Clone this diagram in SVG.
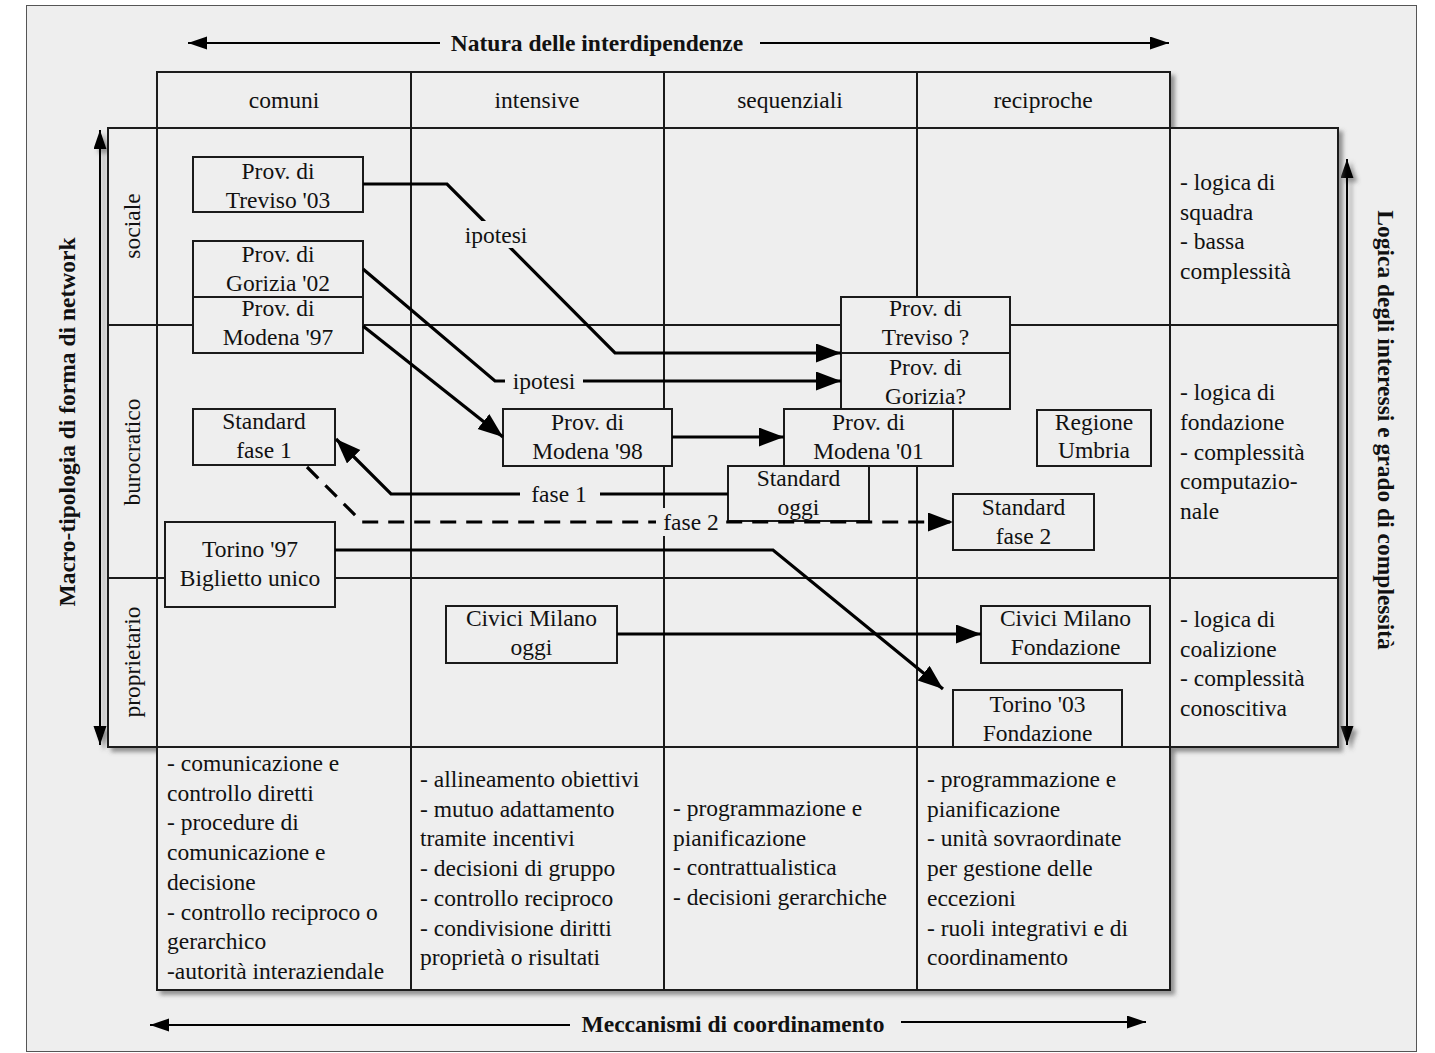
<svg xmlns="http://www.w3.org/2000/svg" width="1435" height="1053" viewBox="0 0 1435 1053">
<defs>
<style>
.t{font-family:"Liberation Serif","Times New Roman",serif;font-size:23.5px;fill:#111}
.c{text-anchor:middle}
.b{font-weight:bold}
.g{fill:none;stroke:#1a1a1a;stroke-width:2}
.box{fill:#eeeeee;stroke:#1a1a1a;stroke-width:2}
.cn{fill:none;stroke:#000;stroke-width:3.2}
.ax{fill:none;stroke:#000;stroke-width:2}
.lb{fill:#eeeeee}
</style>
<filter id="sh" x="-5%" y="-5%" width="110%" height="110%">
<feDropShadow dx="4" dy="4" stdDeviation="2" flood-color="#555" flood-opacity="0.6"/>
</filter>
<marker id="ah" markerUnits="userSpaceOnUse" markerWidth="26" markerHeight="20" refX="25" refY="9.5" orient="auto">
<path d="M0,0 L25,9.5 L0,19 z" fill="#000"/>
</marker>
<marker id="as" markerUnits="userSpaceOnUse" markerWidth="20" markerHeight="14" refX="19" refY="6.5" orient="auto">
<path d="M0,0 L19,6.5 L0,13 z" fill="#000"/>
</marker>
</defs>
<rect x="0" y="0" width="1435" height="1053" fill="#ffffff"/>
<rect x="26.5" y="5.5" width="1390" height="1046" fill="#eeeeee" stroke="#555" stroke-width="1"/>

<g id="axes">
<line class="ax" x1="440" y1="43" x2="188" y2="43" marker-end="url(#as)"/>
<line class="ax" x1="760" y1="43" x2="1169" y2="43" marker-end="url(#as)"/>
<text class="t b c" x="597" y="51">Natura delle interdipendenze</text>
<line class="ax" x1="570" y1="1025" x2="150" y2="1025" marker-end="url(#as)"/>
<line class="ax" x1="901" y1="1022" x2="1146" y2="1022" marker-end="url(#as)"/>
<text class="t b c" x="733" y="1032">Meccanismi di coordinamento</text>
<g filter="url(#sh)">
<line class="ax" x1="100" y1="740" x2="100" y2="130" marker-end="url(#as)"/>
<line class="ax" x1="100" y1="140" x2="100" y2="745" marker-end="url(#as)"/>
<line class="ax" x1="1347" y1="740" x2="1347" y2="159" marker-end="url(#as)"/>
<line class="ax" x1="1347" y1="170" x2="1347" y2="745" marker-end="url(#as)"/>
</g>
<text class="t b c" transform="translate(75,422) rotate(-90)">Macro-tipologia di forma di network</text>
<text class="t b c" transform="translate(378,0) translate(1000,430) rotate(90) translate(0,0)" x="0" y="0">Logica degli interessi e grado di complessità</text>
</g>

<g id="grid">
<rect class="box" x="157" y="72" width="1013" height="56" filter="url(#sh)"/>
<rect class="box" x="108" y="128" width="1230" height="619" filter="url(#sh)"/>
<rect class="box" x="157" y="747" width="1013" height="243" filter="url(#sh)"/>
<path class="g" d="M157,128 V747 M411,72 V990 M664,72 V990 M917,72 V990 M1170,72 V990 M108,325 H1338 M108,578 H1338"/>
<text class="t c" x="284" y="108">comuni</text>
<text class="t c" x="537" y="108">intensive</text>
<text class="t c" x="790" y="108">sequenziali</text>
<text class="t c" x="1043" y="108">reciproche</text>
<text class="t c" transform="translate(140,226) rotate(-90)">sociale</text>
<text class="t c" transform="translate(140,452) rotate(-90)">burocratico</text>
<text class="t c" transform="translate(140,662) rotate(-90)">proprietario</text>
<text class="t" x="1180" y="190">- logica di<tspan x="1180" dy="29.5">squadra</tspan><tspan x="1180" dy="29.5">- bassa</tspan><tspan x="1180" dy="29.5">complessità</tspan></text>
<text class="t" x="1180" y="400">- logica di<tspan x="1180" dy="29.8">fondazione</tspan><tspan x="1180" dy="29.8">- complessità</tspan><tspan x="1180" dy="29.8">computazio-</tspan><tspan x="1180" dy="29.8">nale</tspan></text>
<text class="t" x="1180" y="627">- logica di<tspan x="1180" dy="29.7">coalizione</tspan><tspan x="1180" dy="29.7">- complessità</tspan><tspan x="1180" dy="29.7">conoscitiva</tspan></text>
<text class="t" x="167" y="771">- comunicazione e<tspan x="167" dy="29.7">controllo diretti</tspan><tspan x="167" dy="29.7">- procedure di</tspan><tspan x="167" dy="29.7">comunicazione e</tspan><tspan x="167" dy="29.7">decisione</tspan><tspan x="167" dy="29.7">- controllo reciproco o</tspan><tspan x="167" dy="29.7">gerarchico</tspan><tspan x="167" dy="29.7">-autorità interaziendale</tspan></text>
<text class="t" x="420" y="787">- allineamento obiettivi<tspan x="420" dy="29.7">- mutuo adattamento</tspan><tspan x="420" dy="29.7">tramite incentivi</tspan><tspan x="420" dy="29.7">- decisioni di gruppo</tspan><tspan x="420" dy="29.7">- controllo reciproco</tspan><tspan x="420" dy="29.7">- condivisione diritti</tspan><tspan x="420" dy="29.7">proprietà o risultati</tspan></text>
<text class="t" x="673" y="816">- programmazione e<tspan x="673" dy="29.7">pianificazione</tspan><tspan x="673" dy="29.7">- contrattualistica</tspan><tspan x="673" dy="29.7">- decisioni gerarchiche</tspan></text>
<text class="t" x="927" y="787">- programmazione e<tspan x="927" dy="29.7">pianificazione</tspan><tspan x="927" dy="29.7">- unità sovraordinate</tspan><tspan x="927" dy="29.7">per gestione delle</tspan><tspan x="927" dy="29.7">eccezioni</tspan><tspan x="927" dy="29.7">- ruoli integrativi e di</tspan><tspan x="927" dy="29.7">coordinamento</tspan></text>
</g>

<g id="n-treviso03"><rect class="box" x="193" y="157" width="170" height="55"/><text class="t c" x="278" y="179">Prov. di<tspan x="278" dy="29">Treviso '03</tspan></text></g>
<g id="n-gorizia02"><rect class="box" x="193" y="241" width="170" height="56"/><text class="t c" x="278" y="262">Prov. di<tspan x="278" dy="29">Gorizia '02</tspan></text></g>
<g id="n-modena97"><rect class="box" x="193" y="297" width="170" height="56"/><text class="t c" x="278" y="316">Prov. di<tspan x="278" dy="29">Modena '97</tspan></text></g>
<g id="n-trevisoq"><rect class="box" x="841" y="297" width="169" height="56"/><text class="t c" x="925.5" y="316">Prov. di<tspan x="925.5" dy="29">Treviso ?</tspan></text></g>
<g id="n-goriziaq"><rect class="box" x="841" y="353" width="169" height="56"/><text class="t c" x="925.5" y="375">Prov. di<tspan x="925.5" dy="29">Gorizia?</tspan></text></g>
<g id="n-modena98"><rect class="box" x="503" y="409" width="169" height="57"/><text class="t c" x="587.5" y="430">Prov. di<tspan x="587.5" dy="29">Modena '98</tspan></text></g>
<g id="n-modena01"><rect class="box" x="784" y="409" width="169" height="57"/><text class="t c" x="868.5" y="430">Prov. di<tspan x="868.5" dy="29">Modena '01</tspan></text></g>
<g id="n-stdoggi"><rect class="box" x="728" y="466" width="141" height="55"/><text class="t c" x="798.5" y="486">Standard<tspan x="798.5" dy="29">oggi</tspan></text></g>
<g id="n-stdfase1"><rect class="box" x="193" y="409" width="142" height="56"/><text class="t c" x="264" y="429">Standard<tspan x="264" dy="29">fase 1</tspan></text></g>
<g id="n-umbria"><rect class="box" x="1037" y="410" width="114" height="56"/><text class="t c" x="1094" y="430">Regione<tspan x="1094" dy="28">Umbria</tspan></text></g>
<g id="n-stdfase2"><rect class="box" x="953" y="494" width="141" height="56"/><text class="t c" x="1023.5" y="515">Standard<tspan x="1023.5" dy="29">fase 2</tspan></text></g>
<g id="n-torino97"><rect class="box" x="165" y="522" width="170" height="85"/><text class="t c" x="250" y="557">Torino '97<tspan x="250" dy="29">Biglietto unico</tspan></text></g>
<g id="n-civicioggi"><rect class="box" x="446" y="606" width="171" height="57"/><text class="t c" x="531.5" y="626">Civici Milano<tspan x="531.5" dy="29">oggi</tspan></text></g>
<g id="n-civicifond"><rect class="box" x="981" y="606" width="169" height="57"/><text class="t c" x="1065.5" y="626">Civici Milano<tspan x="1065.5" dy="29">Fondazione</tspan></text></g>
<g id="n-torino03"><rect class="box" x="953" y="690" width="169" height="57"/><text class="t c" x="1037.5" y="712">Torino '03<tspan x="1037.5" dy="29">Fondazione</tspan></text></g>

<g id="connectors">
<path class="cn" d="M363,184 H447 L615,353 H841" marker-end="url(#ah)"/>
<path class="cn" d="M363,269 L495,381 H841" marker-end="url(#ah)"/>
<path class="cn" d="M363,326 L503,437" marker-end="url(#ah)"/>
<path class="cn" d="M672,437 H784" marker-end="url(#ah)"/>
<path class="cn" d="M728,494 H391 L336,439" marker-end="url(#ah)"/>
<path class="cn" d="M307,467 L362,522 H953" stroke-dasharray="16 10" marker-end="url(#ah)"/>
<path class="cn" d="M335,550 H773 L943,689" marker-end="url(#ah)"/>
<path class="cn" d="M617,634 H981" marker-end="url(#ah)"/>
<rect class="lb" x="461" y="221" width="70" height="27"/>
<text class="t c" x="496" y="243">ipotesi</text>
<rect class="lb" x="505" y="368" width="78" height="26"/>
<text class="t c" x="544" y="389">ipotesi</text>
<rect class="lb" x="520" y="481" width="80" height="26"/>
<text class="t c" x="559" y="502">fase 1</text>
<rect class="lb" x="656" y="508" width="68" height="28"/>
<text class="t c" x="691" y="530">fase 2</text>
</g>
</svg>
